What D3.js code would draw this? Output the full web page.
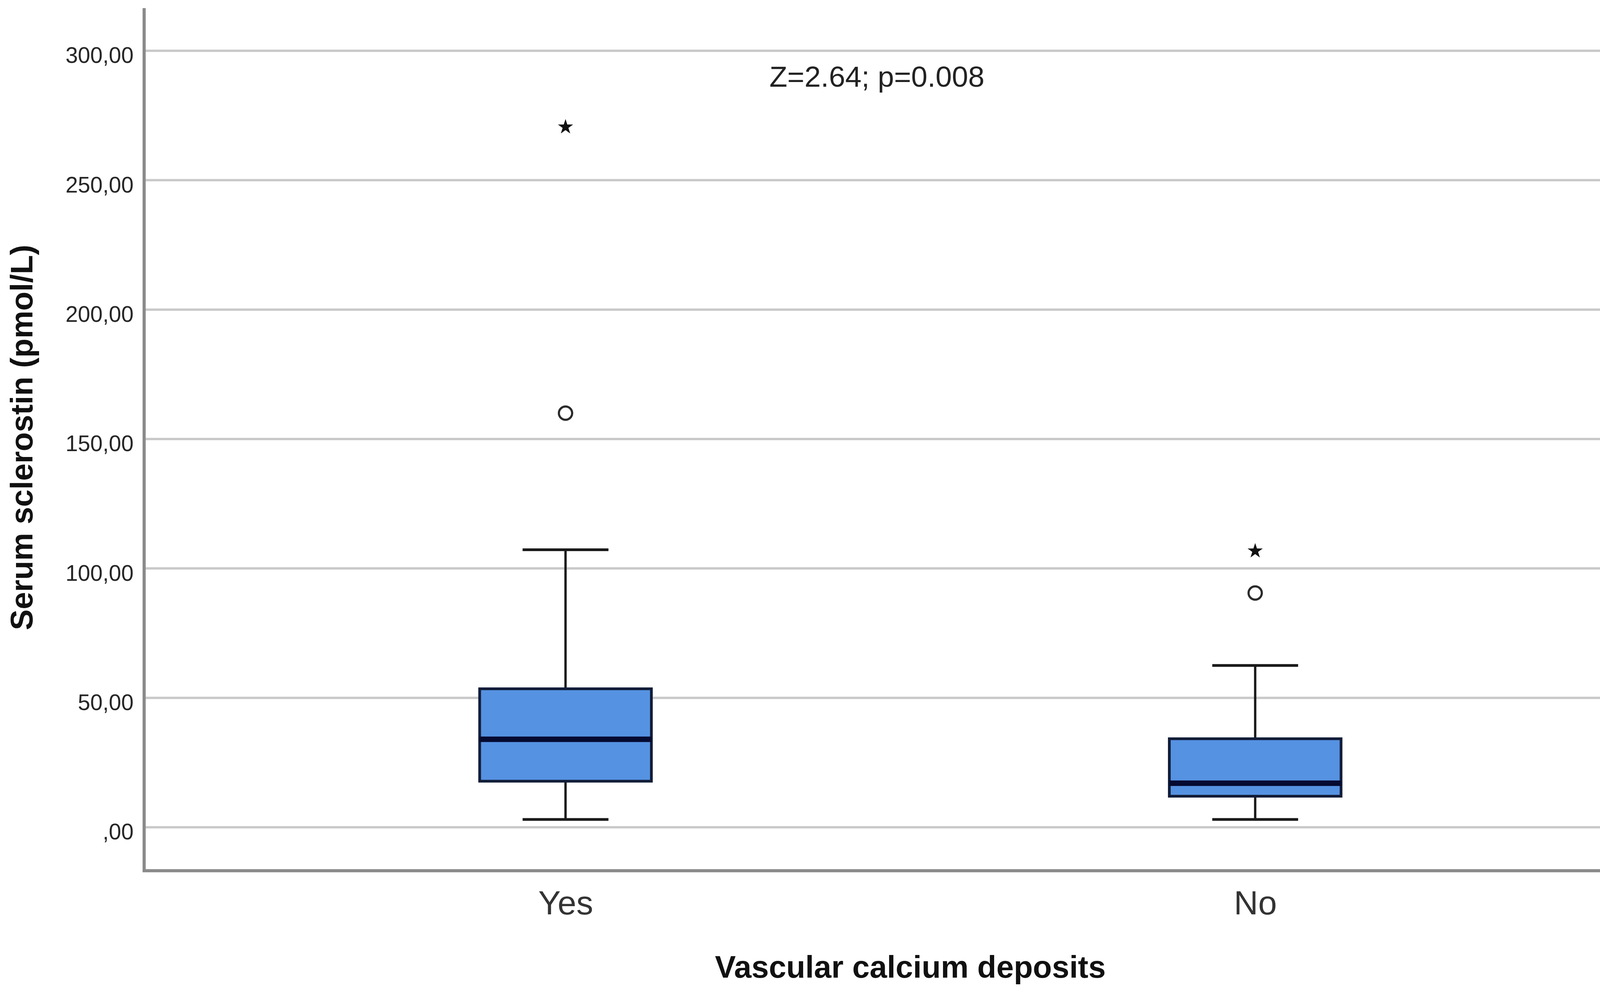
<!DOCTYPE html>
<html>
<head>
<meta charset="utf-8">
<script src="https://cdn.jsdelivr.net/npm/d3@7"></script>
<style>
  html, body { margin: 0; padding: 0; background: #ffffff; }
  svg { display: block; }
</style>
</head>
<body>
<script>
// ---------------- data ----------------
const categories   = ["Yes", "No"];
const whiskerLow   = [3.0, 3.0];
const q1           = [17.8, 12.0];
const median       = [34.0, 17.0];
const q3           = [53.5, 34.2];
const whiskerHigh  = [107.2, 62.5];
const outliersCircle = [[160.0], [90.5]];   // mild outliers (o)
const outliersStar   = [[271.0], [107.2]];  // extreme outliers (*)
const tickValues   = [300, 250, 200, 150, 100, 50, 0];
const tickLabels   = ["300,00", "250,00", "200,00", "150,00", "100,00", "50,00", ",00"];
const yTitle = "Serum sclerostin (pmol/L)";
const xTitle = "Vascular calcium deposits";
const annotation = "Z=2.64; p=0.008";

// ---------------- layout ----------------
const W = 4317, H = 2550;
const plotLeft = 369, plotRight = 4292;
const svg = d3.select("body").append("svg")
  .attr("width", W).attr("height", H)
  .attr("viewBox", `0 0 ${W} ${H}`);

svg.append("rect").attr("width", W).attr("height", H).attr("fill", "#ffffff");

const y = d3.scaleLinear().domain([0, 300]).range([2118, 130]);
const x = d3.scalePoint().domain(categories).range([plotLeft, plotRight]).padding(0.611);
const step = x.step();
const boxW = step * 0.249;
const capW = boxW * 0.5;

// frame extents (in data units beyond domain)
const axisTopVal = 316.5, axisBottomVal = -16.8;

// gridlines
svg.append("g").selectAll("line.grid").data(tickValues).join("line")
  .attr("x1", plotLeft).attr("x2", plotRight - 5)
  .attr("y1", d => y(d)).attr("y2", d => y(d))
  .attr("stroke", "#c9c9c9").attr("stroke-width", 6);

// y axis tick labels
const yAxis = d3.axisLeft(y).tickValues(tickValues)
  .tickFormat((d, i) => tickLabels[i]).tickSize(0).tickPadding(27);
const gy = svg.append("g").attr("transform", `translate(${plotLeft},0)`).call(yAxis);
gy.select(".domain").remove();
gy.selectAll("text")
  .attr("dy", "0.54em")
  .attr("font-family", "'Liberation Sans', Arial, sans-serif")
  .attr("font-size", 57).attr("fill", "#262626");

// axis lines
svg.append("line")
  .attr("x1", plotLeft).attr("x2", plotLeft)
  .attr("y1", y(axisTopVal)).attr("y2", y(axisBottomVal) + 3)
  .attr("stroke", "#8a8a8a").attr("stroke-width", 8);
svg.append("line")
  .attr("x1", plotLeft - 4).attr("x2", plotRight)
  .attr("y1", y(axisBottomVal)).attr("y2", y(axisBottomVal))
  .attr("stroke", "#8a8a8a").attr("stroke-width", 8);

// x axis category labels
const xAxis = d3.axisBottom(x).tickSize(0).tickPadding(0);
const gx = svg.append("g").attr("transform", `translate(0,${y(axisBottomVal)})`).call(xAxis);
gx.select(".domain").remove();
gx.selectAll("text")
  .attr("y", 112).attr("dy", 0)
  .attr("font-family", "'Liberation Sans Narrow', 'Arial Narrow', 'Liberation Sans', Arial, sans-serif")
  .attr("font-size", 86).attr("fill", "#333333");

// boxes
const boxes = svg.append("g").selectAll("g.box").data(categories).join("g");

// whisker stems
boxes.append("line")
  .attr("x1", d => x(d)).attr("x2", d => x(d))
  .attr("y1", (d, i) => y(whiskerHigh[i])).attr("y2", (d, i) => y(q3[i]))
  .attr("stroke", "#1a1a1a").attr("stroke-width", 6);
boxes.append("line")
  .attr("x1", d => x(d)).attr("x2", d => x(d))
  .attr("y1", (d, i) => y(q1[i])).attr("y2", (d, i) => y(whiskerLow[i]))
  .attr("stroke", "#1a1a1a").attr("stroke-width", 6);
// caps
boxes.append("line")
  .attr("x1", d => x(d) - capW / 2).attr("x2", d => x(d) + capW / 2)
  .attr("y1", (d, i) => y(whiskerHigh[i])).attr("y2", (d, i) => y(whiskerHigh[i]))
  .attr("stroke", "#1a1a1a").attr("stroke-width", 7);
boxes.append("line")
  .attr("x1", d => x(d) - capW / 2).attr("x2", d => x(d) + capW / 2)
  .attr("y1", (d, i) => y(whiskerLow[i])).attr("y2", (d, i) => y(whiskerLow[i]))
  .attr("stroke", "#1a1a1a").attr("stroke-width", 7);
// box
boxes.append("rect")
  .attr("x", d => x(d) - boxW / 2).attr("width", boxW)
  .attr("y", (d, i) => y(q3[i])).attr("height", (d, i) => y(q1[i]) - y(q3[i]))
  .attr("fill", "#5592e2").attr("stroke", "#121d38").attr("stroke-width", 7);
// median
boxes.append("line")
  .attr("x1", d => x(d) - boxW / 2).attr("x2", d => x(d) + boxW / 2)
  .attr("y1", (d, i) => y(median[i])).attr("y2", (d, i) => y(median[i]))
  .attr("stroke", "#050a30").attr("stroke-width", 14);

// outliers: circles
const circ = [];
categories.forEach((c, i) => outliersCircle[i].forEach(v => circ.push({c, v})));
svg.append("g").selectAll("circle").data(circ).join("circle")
  .attr("cx", d => x(d.c)).attr("cy", d => y(d.v)).attr("r", 17)
  .attr("fill", "#ffffff").attr("stroke", "#2a2a2a").attr("stroke-width", 5.5);

// outliers: stars
const stars = [];
categories.forEach((c, i) => outliersStar[i].forEach(v => stars.push({c, v})));
svg.append("g").selectAll("path").data(stars).join("path")
  .attr("transform", d => `translate(${x(d.c)},${y(d.v) + 3})`)
  .attr("d", d3.symbol(d3.symbolStar, 470)())
  .attr("fill", "#111111");

// annotation
svg.append("text")
  .attr("x", 2245).attr("y", 222)
  .attr("text-anchor", "middle")
  .attr("font-family", "'Liberation Sans', Arial, sans-serif")
  .attr("font-size", 75).attr("fill", "#222222")
  .text(annotation);

// axis titles
svg.append("text")
  .attr("transform", `translate(83,1120) rotate(-90)`)
  .attr("text-anchor", "middle")
  .attr("font-family", "'Liberation Sans', Arial, sans-serif")
  .attr("font-weight", "bold")
  .attr("font-size", 80).attr("fill", "#111111")
  .text(yTitle);

svg.append("text")
  .attr("x", (plotLeft + plotRight) / 2).attr("y", 2503)
  .attr("text-anchor", "middle")
  .attr("font-family", "'Liberation Sans', Arial, sans-serif")
  .attr("font-weight", "bold")
  .attr("font-size", 80).attr("fill", "#111111")
  .text(xTitle);
</script>
</body>
</html>
